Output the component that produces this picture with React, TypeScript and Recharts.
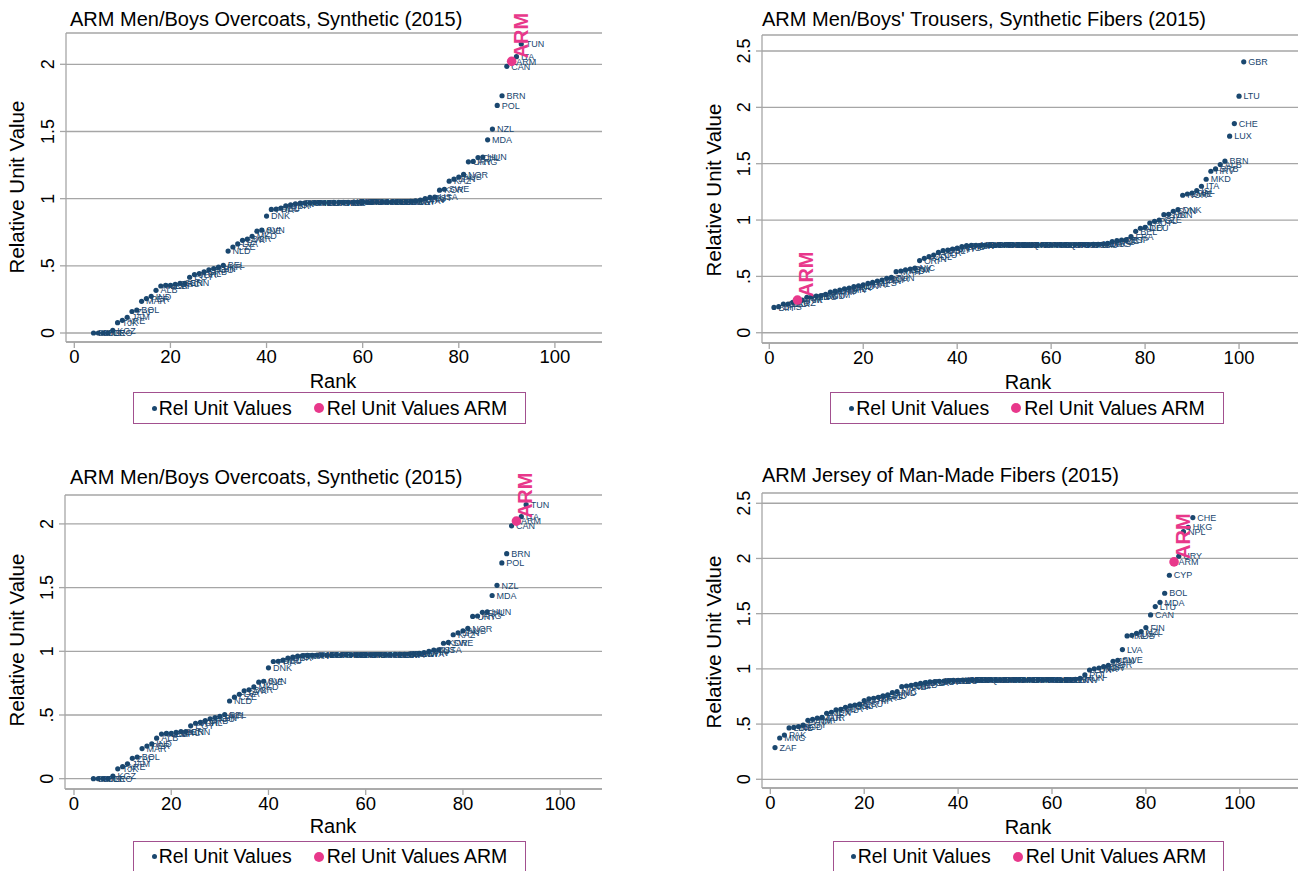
import { ScatterChart, Scatter, XAxis, YAxis, CartesianGrid } from 'recharts'

const NAVY = '#1a476f'
const PINK = '#e8388b'
const GRID = '#a6a6a6'
const LEG = '#a2508f'
const FONT = '"Liberation Sans", Arial, Helvetica, sans-serif'

// Men/Boys overcoats, synthetic: ranks start at 4
const overcoatsFirstRank = 4
const overcoatsValues = [
  0, 0, 0, 0, 0.02, 0.077, 0.094, 0.117, 0.16, 0.17,
  0.236, 0.256, 0.273, 0.318, 0.35, 0.355, 0.355, 0.363, 0.37, 0.37,
  0.415, 0.435, 0.442, 0.455, 0.47, 0.48, 0.49, 0.504, 0.61, 0.64,
  0.663, 0.69, 0.698, 0.72, 0.758, 0.765, 0.87, 0.92, 0.922, 0.93,
  0.946, 0.954, 0.962, 0.966, 0.968, 0.969, 0.97, 0.97, 0.971, 0.971,
  0.972, 0.972, 0.972, 0.973, 0.973, 0.973, 0.974, 0.974, 0.974, 0.975,
  0.975, 0.975, 0.976, 0.976, 0.977, 0.978, 0.98, 0.983, 0.99, 1.0,
  1.009, 1.012, 1.063, 1.07, 1.13, 1.145, 1.16, 1.18, 1.274, 1.277,
  1.306, 1.31, 1.438, 1.518, 1.694, 1.766, 1.985, 2.022, 2.057, 2.151,
]
const overcoatsLabels = [
  'BIH', 'BHS', 'BLR', 'GEO', 'KGZ', 'TJK', 'ARE', 'JAM', 'ZAF', 'BOL',
  'MAR', 'PER', 'IND', 'ALB', 'MEX', 'LKA', 'ESP', 'GRC', 'SEN', 'GRN',
  'EGY', 'JOR', 'PHL', 'SRB', 'ROU', 'LBN', 'UKR', 'BEL', 'NLD', 'CZE',
  'LVA', 'SVK', 'BGR', 'MKD', 'MNE', 'SVN', 'DNK', 'FRA', 'DEU', 'IRL',
  'GBR', 'AUT', 'FIN', 'PRT', 'HRV', 'CYP', 'MLT', 'ISL', 'LUX', 'ISR',
  'TUR', 'RUS', 'AZE', 'KEN', 'GHA', 'NGA', 'ETH', 'TZA', 'UGA', 'MOZ',
  'MDG', 'MUS', 'NAM', 'BWA', 'ZMB', 'ZWE', 'MWI', 'RWA', 'CHN', 'LTU',
  'EST', 'USA', 'KOR', 'SWE', 'KAZ', 'JPN', 'AUS', 'NOR', 'URY', 'ARG',
  'CHL', 'HUN', 'MDA', 'NZL', 'POL', 'BRN', 'CAN', 'ARM', 'ITA', 'TUN',
]
const overcoatsArm = { rank: 91, v: 2.022 }

// Men/Boys' trousers, synthetic fibers
const trousersFirstRank = 1
const trousersValues = [
  0.225, 0.231, 0.255, 0.255, 0.27, 0.29, 0.29, 0.315, 0.32, 0.325,
  0.33, 0.34, 0.36, 0.37, 0.378, 0.39, 0.397, 0.409, 0.417, 0.426,
  0.438, 0.447, 0.459, 0.468, 0.483, 0.491, 0.542, 0.548, 0.557, 0.565,
  0.574, 0.64, 0.66, 0.675, 0.69, 0.713, 0.728, 0.734, 0.743, 0.752,
  0.764, 0.773, 0.775, 0.776, 0.776, 0.777, 0.777, 0.777, 0.778, 0.778,
  0.778, 0.778, 0.779, 0.779, 0.779, 0.779, 0.78, 0.78, 0.78, 0.78,
  0.78, 0.781, 0.781, 0.781, 0.782, 0.782, 0.783, 0.783, 0.784, 0.785,
  0.787, 0.793, 0.808, 0.817, 0.823, 0.826, 0.853, 0.9, 0.927, 0.935,
  0.974, 0.989, 1.0, 1.048, 1.051, 1.078, 1.092, 1.22, 1.231, 1.24,
  1.261, 1.3, 1.362, 1.433, 1.454, 1.492, 1.522, 1.744, 1.856, 2.099,
  2.404,
]
const trousersLabels = [
  'BIH', 'BHS', 'GEO', 'BLR', 'KGZ', 'ARM', 'TJK', 'UZB', 'MNG', 'PAK',
  'BGD', 'VNM', 'KHM', 'LAO', 'MMR', 'NPL', 'LKA', 'IND', 'IDN', 'THA',
  'PHL', 'MYS', 'CHN', 'EGY', 'JOR', 'TUN', 'MAR', 'HND', 'GTM', 'SLV',
  'NIC', 'CRI', 'PAN', 'COL', 'ECU', 'PER', 'BOL', 'PRY', 'URY', 'ARG',
  'CHL', 'BRA', 'VEN', 'MEX', 'CUB', 'DOM', 'JAM', 'HTI', 'TTO', 'BRB',
  'GUY', 'SUR', 'BLZ', 'BHR', 'QAT', 'KWT', 'OMN', 'SAU', 'ARE', 'IRN',
  'IRQ', 'SYR', 'LBN', 'ISR', 'TUR', 'CYP', 'GRC', 'BGR', 'ROU', 'MDA',
  'UKR', 'RUS', 'KAZ', 'AZE', 'PRT', 'ESP', 'FRA', 'BEL', 'NLD', 'DEU',
  'AUT', 'POL', 'CZE', 'SVK', 'HUN', 'SVN', 'DNK', 'NOR', 'SWE', 'FIN',
  'ISL', 'ITA', 'MKD', 'HRV', 'SRB', 'ALB', 'BRN', 'LUX', 'CHE', 'LTU',
  'GBR',
]
const trousersArm = { rank: 6, v: 0.29 }

// Jersey of man-made fibers
const jerseyFirstRank = 1
const jerseyValues = [
  0.287, 0.374, 0.4, 0.465, 0.47, 0.477, 0.49, 0.534, 0.543, 0.553,
  0.56, 0.598, 0.607, 0.628, 0.634, 0.652, 0.664, 0.673, 0.68, 0.713,
  0.728, 0.734, 0.743, 0.755, 0.764, 0.785, 0.794, 0.839, 0.845, 0.851,
  0.86, 0.87, 0.876, 0.882, 0.885, 0.888, 0.89, 0.893, 0.895, 0.897,
  0.898, 0.898, 0.899, 0.899, 0.899, 0.9, 0.9, 0.9, 0.9, 0.9,
  0.9, 0.9, 0.9, 0.9, 0.9, 0.9, 0.9, 0.9, 0.9, 0.9,
  0.901, 0.901, 0.902, 0.903, 0.905, 0.915, 0.945, 0.99, 1.0, 1.008,
  1.02, 1.033, 1.069, 1.078, 1.175, 1.298, 1.304, 1.322, 1.338, 1.374,
  1.489, 1.564, 1.603, 1.685, 1.848, 1.969, 2.02, 2.243, 2.283, 2.37,
]
const jerseyLabels = [
  'ZAF', 'MNG', 'PAK', 'LBN', 'IND', 'BGD', 'EGY', 'VNM', 'THA', 'MAR',
  'TUR', 'MEX', 'IDN', 'PHL', 'JOR', 'TUN', 'COL', 'PER', 'ECU', 'GTM',
  'GBR', 'BRA', 'ARG', 'CHL', 'SLV', 'HND', 'NIC', 'MNE', 'SRB', 'BIH',
  'ALB', 'MKD', 'BGR', 'ROU', 'UKR', 'BLR', 'RUS', 'KAZ', 'GEO', 'AZE',
  'KGZ', 'UZB', 'TJK', 'ARE', 'SAU', 'QAT', 'KWT', 'OMN', 'BHR', 'ISR',
  'TWN', 'GRC', 'MLT', 'ITA', 'ESP', 'PRT', 'FRA', 'BEL', 'NLD', 'DEU',
  'AUT', 'CZE', 'SVK', 'SVN', 'HRV', 'HUN', 'POL', 'LUX', 'DNK', 'NOR',
  'EST', 'KOR', 'JPN', 'SWE', 'LVA', 'IRL', 'AUS', 'USA', 'NZL', 'FIN',
  'CAN', 'LTU', 'MDA', 'BOL', 'CYP', 'ARM', 'URY', 'NPL', 'HKG', 'CHE',
]
const jerseyArm = { rank: 86, v: 1.969 }

const rankTicks = [0, 20, 40, 60, 80, 100]
const yTicks2 = [0, 0.5, 1, 1.5, 2]
const yTicks25 = [0, 0.5, 1, 1.5, 2, 2.5]

type Pt = { rank: number; v: number; label: string }

const build = (first: number, vals: number[], labels: string[]): Pt[] =>
  vals.map((v, i) => ({ rank: first + i, v, label: labels[i] }))

const fmtY = (v: number) => (v === 0 ? '0' : String(v).replace(/^0\./, '.'))

const BlueDot = (props: any) => {
  const { cx, cy, payload } = props
  if (cx == null || cy == null) return null
  return (
    <g>
      <circle cx={cx} cy={cy} r={2.6} fill={NAVY} />
      <text x={cx + 4.5} y={cy + 3.2} fontSize={9} fill={NAVY} fontFamily={FONT}>
        {payload.label}
      </text>
    </g>
  )
}

const PinkDot = (props: any) => {
  const { cx, cy } = props
  if (cx == null || cy == null) return null
  return (
    <g>
      <circle cx={cx} cy={cy} r={4.8} fill={PINK} />
      <text
        transform={`translate(${cx + 16},${cy - 3}) rotate(-90)`}
        fontSize={20}
        fontWeight="bold"
        fill={PINK}
        fontFamily={FONT}
      >
        ARM
      </text>
    </g>
  )
}

const YTick = (props: any) => {
  const { x, y, payload } = props
  return (
    <text
      transform={`translate(${x - 4},${y}) rotate(-90)`}
      textAnchor="middle"
      fontSize={18}
      fill="#000"
      fontFamily={FONT}
    >
      {fmtY(payload.value)}
    </text>
  )
}

interface PanelCfg {
  title: string
  left: number
  top: number
  w: number
  h: number
  margin: { top: number; right: number; bottom: number; left: number }
  xDomain: [number, number]
  yDomain: [number, number]
  yTicks: number[]
  titleX: number
  titleY: number
  yTitle: [number, number]
  rankPos: [number, number]
  legend: [number, number, number, number]
}

function Panel({ cfg, data, arm }: { cfg: PanelCfg; data: Pt[]; arm: { rank: number; v: number } }) {
  const [lx, ly, lw, lh] = cfg.legend
  return (
    <>
      <div style={{ position: 'absolute', left: cfg.left, top: cfg.top }}>
        <ScatterChart width={cfg.w} height={cfg.h} margin={cfg.margin}>
          <CartesianGrid vertical={false} stroke={GRID} strokeWidth={1.3} />
          <XAxis
            type="number"
            dataKey="rank"
            domain={cfg.xDomain}
            ticks={rankTicks}
            interval={0}
            height={30}
            tickSize={6}
            tick={{ fontSize: 18.5, fill: '#000', fontFamily: FONT }}
            axisLine={{ stroke: GRID, strokeWidth: 1.3 }}
            tickLine={{ stroke: GRID, strokeWidth: 1.3 }}
          />
          <YAxis
            type="number"
            dataKey="v"
            domain={cfg.yDomain}
            ticks={cfg.yTicks}
            interval={0}
            width={40}
            tickSize={6}
            tick={YTick}
            axisLine={{ stroke: GRID, strokeWidth: 1.3 }}
            tickLine={{ stroke: GRID, strokeWidth: 1.3 }}
          />
          <Scatter data={data} shape={BlueDot} isAnimationActive={false} />
          <Scatter data={[arm]} shape={PinkDot} isAnimationActive={false} />
        </ScatterChart>
      </div>
      <div
        style={{
          position: 'absolute',
          left: cfg.titleX,
          top: cfg.titleY,
          transform: 'translateY(-50%)',
          fontSize: 20,
          whiteSpace: 'nowrap',
          color: '#000',
        }}
      >
        {cfg.title}
      </div>
      <div
        style={{
          position: 'absolute',
          left: cfg.yTitle[0],
          top: cfg.yTitle[1],
          transform: 'translate(-50%,-50%) rotate(-90deg)',
          fontSize: 20.5,
          whiteSpace: 'nowrap',
        }}
      >
        Relative Unit Value
      </div>
      <div
        style={{
          position: 'absolute',
          left: cfg.rankPos[0],
          top: cfg.rankPos[1],
          transform: 'translate(-50%,-50%)',
          fontSize: 20,
        }}
      >
        Rank
      </div>
      <div
        style={{
          position: 'absolute',
          left: lx,
          top: ly,
          width: lw,
          height: lh,
          boxSizing: 'border-box',
          border: `1.5px solid ${LEG}`,
          display: 'flex',
          alignItems: 'center',
          justifyContent: 'center',
          fontSize: 19.5,
          whiteSpace: 'nowrap',
        }}
      >
        <span style={{ width: 5, height: 5, borderRadius: '50%', background: NAVY, marginRight: 2 }} />
        Rel Unit Values
        <span style={{ width: 10, height: 10, borderRadius: '50%', background: PINK, marginLeft: 22, marginRight: 3 }} />
        Rel Unit Values ARM
      </div>
    </>
  )
}

const panels: PanelCfg[] = [
  {
    title: 'ARM Men/Boys Overcoats, Synthetic (2015)',
    left: 0, top: 0, w: 650, h: 435,
    margin: { top: 33, right: 48, bottom: 63, left: 26 },
    xDomain: [-1.73, 109.8], yDomain: [-0.067, 2.233], yTicks: yTicks2,
    titleX: 70, titleY: 19, yTitle: [17, 187], rankPos: [333, 381], legend: [133, 392, 393, 32],
  },
  {
    title: "ARM Men/Boys' Trousers, Synthetic Fibers (2015)",
    left: 650, top: 0, w: 651, h: 435,
    margin: { top: 35, right: 3, bottom: 62, left: 72 },
    xDomain: [-1.55, 112.55], yDomain: [-0.091, 2.642], yTicks: yTicks25,
    titleX: 762, titleY: 19, yTitle: [714, 190], rankPos: [1028, 382], legend: [830, 392, 394, 32],
  },
  {
    title: 'ARM Men/Boys Overcoats, Synthetic (2015)',
    left: 0, top: 435, w: 650, h: 436,
    margin: { top: 60, right: 48, bottom: 52, left: 25 },
    xDomain: [-1.85, 108.6], yDomain: [-0.081, 2.227], yTicks: yTicks2,
    titleX: 70, titleY: 477, yTitle: [17, 640], rankPos: [333, 826], legend: [133, 841, 393, 31],
  },
  {
    title: 'ARM Jersey of Man-Made Fibers (2015)',
    left: 650, top: 435, w: 651, h: 436,
    margin: { top: 58, right: 3, bottom: 53, left: 72 },
    xDomain: [-1.77, 112.4], yDomain: [-0.079, 2.593], yTicks: yTicks25,
    titleX: 762, titleY: 475, yTitle: [714, 642], rankPos: [1028, 827], legend: [833, 841, 391, 31],
  },
]

export default function App() {
  const overcoats = build(overcoatsFirstRank, overcoatsValues, overcoatsLabels)
  const trousers = build(trousersFirstRank, trousersValues, trousersLabels)
  const jersey = build(jerseyFirstRank, jerseyValues, jerseyLabels)
  return (
    <div
      style={{
        position: 'absolute',
        left: 0,
        top: 0,
        width: 1301,
        height: 871,
        background: '#fff',
        fontFamily: FONT,
        overflow: 'hidden',
      }}
    >
      <Panel cfg={panels[0]} data={overcoats} arm={overcoatsArm} />
      <Panel cfg={panels[1]} data={trousers} arm={trousersArm} />
      <Panel cfg={panels[2]} data={overcoats} arm={overcoatsArm} />
      <Panel cfg={panels[3]} data={jersey} arm={jerseyArm} />
    </div>
  )
}
